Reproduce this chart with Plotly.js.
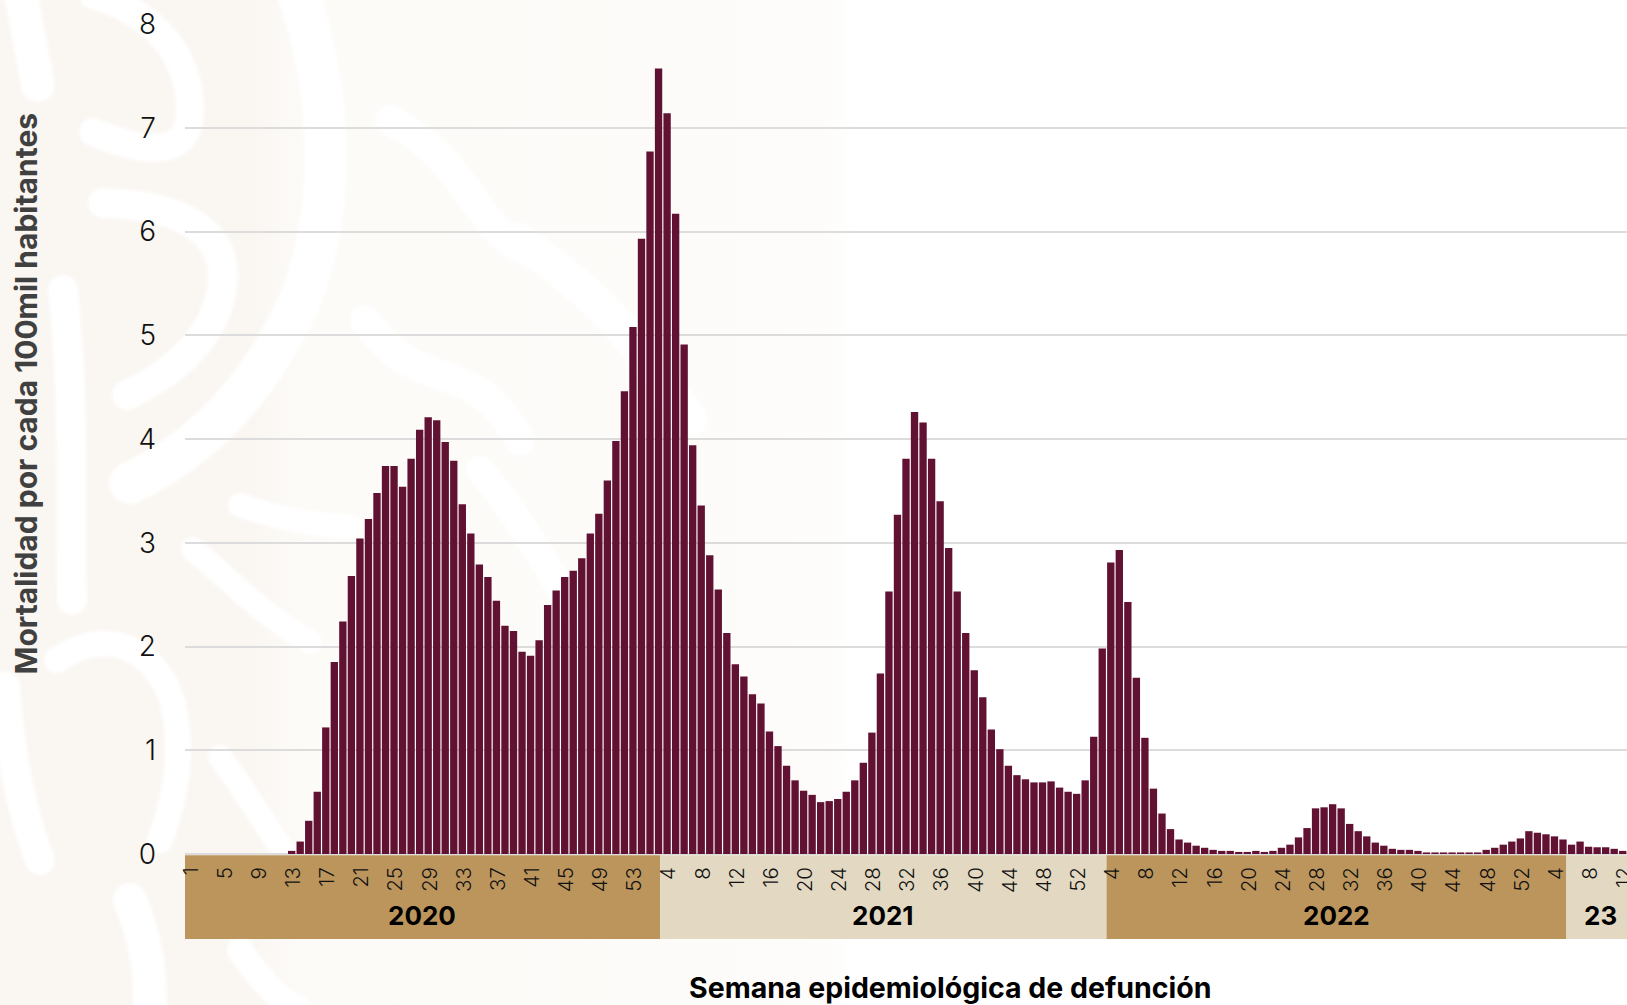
<!DOCTYPE html>
<html>
<head>
<meta charset="utf-8">
<script src="https://cdn.plot.ly/plotly-3.0.1.min.js"></script>
<style>
html,body{margin:0;padding:0;background:#fff;overflow:hidden}
#wm{position:absolute;left:0;top:0;width:1627px;height:1005px;z-index:0}
#chart{position:absolute;left:0;top:0;width:1627px;height:1005px;z-index:1}
</style>
</head>
<body>
<svg id="wm" viewBox="0 0 1627 1005" xmlns="http://www.w3.org/2000/svg">
  <defs>
    <linearGradient id="fade" x1="0" x2="1" y1="0" y2="0">
      <stop offset="0" stop-color="#faf6f2"/><stop offset="0.3" stop-color="#faf7f3"/><stop offset="0.36" stop-color="#fdfbf8"/><stop offset="0.97" stop-color="#fdfcfa"/><stop offset="1" stop-color="#ffffff"/>
    </linearGradient>
    <filter id="soft"><feGaussianBlur stdDeviation="1.5"/></filter>
  </defs>
  <rect x="0" y="0" width="850" height="1005" fill="url(#fade)"/>
  <g fill="none" stroke="#fff" stroke-linecap="round" stroke-linejoin="round" filter="url(#soft)">
    <path d="M20 -10 L38 85" stroke-width="34"/>
    <path d="M93 -5 C160 15 190 60 190 110 C190 150 160 160 93 132" stroke-width="28"/>
    <path d="M103 203 C180 205 222 230 223 275 C222 330 180 370 127 395" stroke-width="30"/>
    <path d="M63 290 C75 400 70 500 72 600" stroke-width="30"/>
    <path d="M297 -10 C335 100 335 210 300 300 C260 390 200 450 130 483" stroke-width="42"/>
    <path d="M193 549 C240 590 270 620 310 642" stroke-width="24"/>
    <path d="M240 505 C280 520 320 525 350 527" stroke-width="24"/>
    <path d="M57 660 C100 630 150 640 172 700 C185 750 175 800 160 840" stroke-width="26"/>
    <path d="M5 686 C10 750 20 810 40 860" stroke-width="30"/>
    <path d="M220 757 C245 790 265 825 290 860" stroke-width="24"/>
    <path d="M365 320 C420 400 470 350 520 440" stroke-width="30"/>
    <path d="M390 120 C470 160 480 240 530 250" stroke-width="30"/>
    <path d="M130 900 C150 950 150 980 150 1010" stroke-width="34"/>
    <path d="M240 950 C260 980 280 1000 300 1010" stroke-width="26"/>
    <path d="M520 240 C590 290 640 340 690 420" stroke-width="34"/>
    <path d="M480 470 C540 540 560 600 620 680" stroke-width="28"/>
  </g>
</svg>
<div id="chart"></div>
<script>
const weekIndex = Array.from({length: 169}, (_, i) => i + 1);
const mortalidad = [
  0,0,0,0,0,0,0,0,0,0,0,0,0.03,0.12,0.32,0.60,1.22,1.85,2.24,2.68,
  3.04,3.23,3.48,3.74,3.74,3.54,3.81,4.09,4.21,4.18,3.97,3.79,3.37,3.09,2.79,2.67,2.44,2.20,2.15,1.95,
  1.91,2.06,2.40,2.54,2.67,2.73,2.85,3.09,3.28,3.60,3.98,4.46,5.08,5.93,6.77,7.57,7.14,6.17,4.91,3.94,
  3.36,2.88,2.55,2.13,1.83,1.71,1.54,1.45,1.18,1.04,0.85,0.71,0.61,0.57,0.50,0.51,0.53,0.60,0.71,0.88,
  1.17,1.74,2.53,3.27,3.81,4.26,4.16,3.81,3.40,2.95,2.53,2.13,1.77,1.51,1.20,1.01,0.85,0.76,0.72,0.69,
  0.69,0.70,0.64,0.60,0.58,0.71,1.13,1.98,2.81,2.93,2.43,1.70,1.12,0.63,0.39,0.24,0.14,0.11,0.08,0.06,
  0.04,0.03,0.03,0.02,0.02,0.03,0.02,0.03,0.06,0.09,0.16,0.25,0.44,0.45,0.48,0.44,0.29,0.22,0.17,0.11,
  0.08,0.05,0.04,0.04,0.03,0.015,0.015,0.015,0.015,0.015,0.015,0.015,0.04,0.06,0.09,0.12,0.15,0.22,0.205,0.19,
  0.17,0.14,0.09,0.12,0.07,0.065,0.065,0.05,0.03
];
const tickPositions = [1,5,9,13,17,21,25,29,33,37,41,45,49,53,57,61,65,69,73,77,81,85,89,93,97,101,105,109,113,117,121,125,129,133,137,141,145,149,153,157,161,165,169];
const tickLabels = ['1','5','9','13','17','21','25','29','33','37','41','45','49','53','4','8','12','16','20','24','28','32','36','40','44','48','52','4','8','12','16','20','24','28','32','36','40','44','48','52','4','8','12'];
const yTicks = [0,1,2,3,4,5,6,7,8];
const yearLabels = ['2020','2021','2022','23'];
const yearStart = [0.5,56.2,108.5,162.4];
const yearEnd = [56.2,108.5,162.4,169.5];
const yearLabelX = [28.26,82.27,135.48,166.39];
const yearColor = ['#BC955C','#E3D8C1','#BC955C','#E3D8C1'];

const FONT = 'Inter, "Open Sans", sans-serif';
const shapes = yearLabels.map((_, i) => ({
  type:'rect', xref:'x', yref:'paper', layer:'below',
  x0:yearStart[i], x1:yearEnd[i], y0:-0.0016, y1:-0.1025,
  fillcolor:yearColor[i], line:{width:0}
}));
const annotations = yearLabels.map((t,i)=>({
  text:t, xref:'x', yref:'paper', x:yearLabelX[i], y:-0.0735,
  xanchor:'center', yanchor:'middle', showarrow:false,
  font:{family:FONT,size:26,weight:700,color:'#000'}
}));
annotations.push({
  text:'Semana epidemiológica de defunción', xref:'paper', yref:'paper',
  x:0.531, y:-0.1610, xanchor:'center', yanchor:'middle', showarrow:false,
  font:{family:FONT,size:28.5,weight:700,color:'#000'}
});
annotations.push({
  text:'Mortalidad por cada 100mil habitantes', xref:'paper', yref:'paper',
  x:-0.1105, y:0.5544, xanchor:'center', yanchor:'middle', showarrow:false, textangle:-90,
  font:{family:FONT,size:30,weight:700,color:'#404040'}
});

Plotly.newPlot('chart',[{
  type:'bar', x:weekIndex, y:mortalidad,
  marker:{color:'#611232',line:{width:0}}, hoverinfo:'x+y'
}],{
  width:1627,height:1005,
  margin:{l:185,r:0,t:24,b:150.6,pad:0},
  paper_bgcolor:'rgba(0,0,0,0)',plot_bgcolor:'rgba(0,0,0,0)',
  bargap:0.14, showlegend:false,
  xaxis:{range:[0.5,169.5],tickmode:'array',tickvals:tickPositions.map(v=>v+0.2),ticktext:tickLabels,
    tickangle:-90,ticks:'',ticklabelstandoff:8,ticklabeloverflow:'allow',showgrid:false,zeroline:false,showline:false,
    tickfont:{family:FONT,size:20.5,weight:300,color:'#111'},automargin:false},
  yaxis:{range:[0,8],tickmode:'array',tickvals:yTicks,ticks:'',ticklabelstandoff:28,
    showgrid:true,gridcolor:'#DCDCDC',gridwidth:2,zeroline:true,zerolinecolor:'#DCDCDC',zerolinewidth:2,
    showline:false,tickfont:{family:FONT,size:28,weight:300,color:'#111'},automargin:false},
  shapes,annotations
},{displayModeBar:false,staticPlot:true});
</script>
</body>
</html>
